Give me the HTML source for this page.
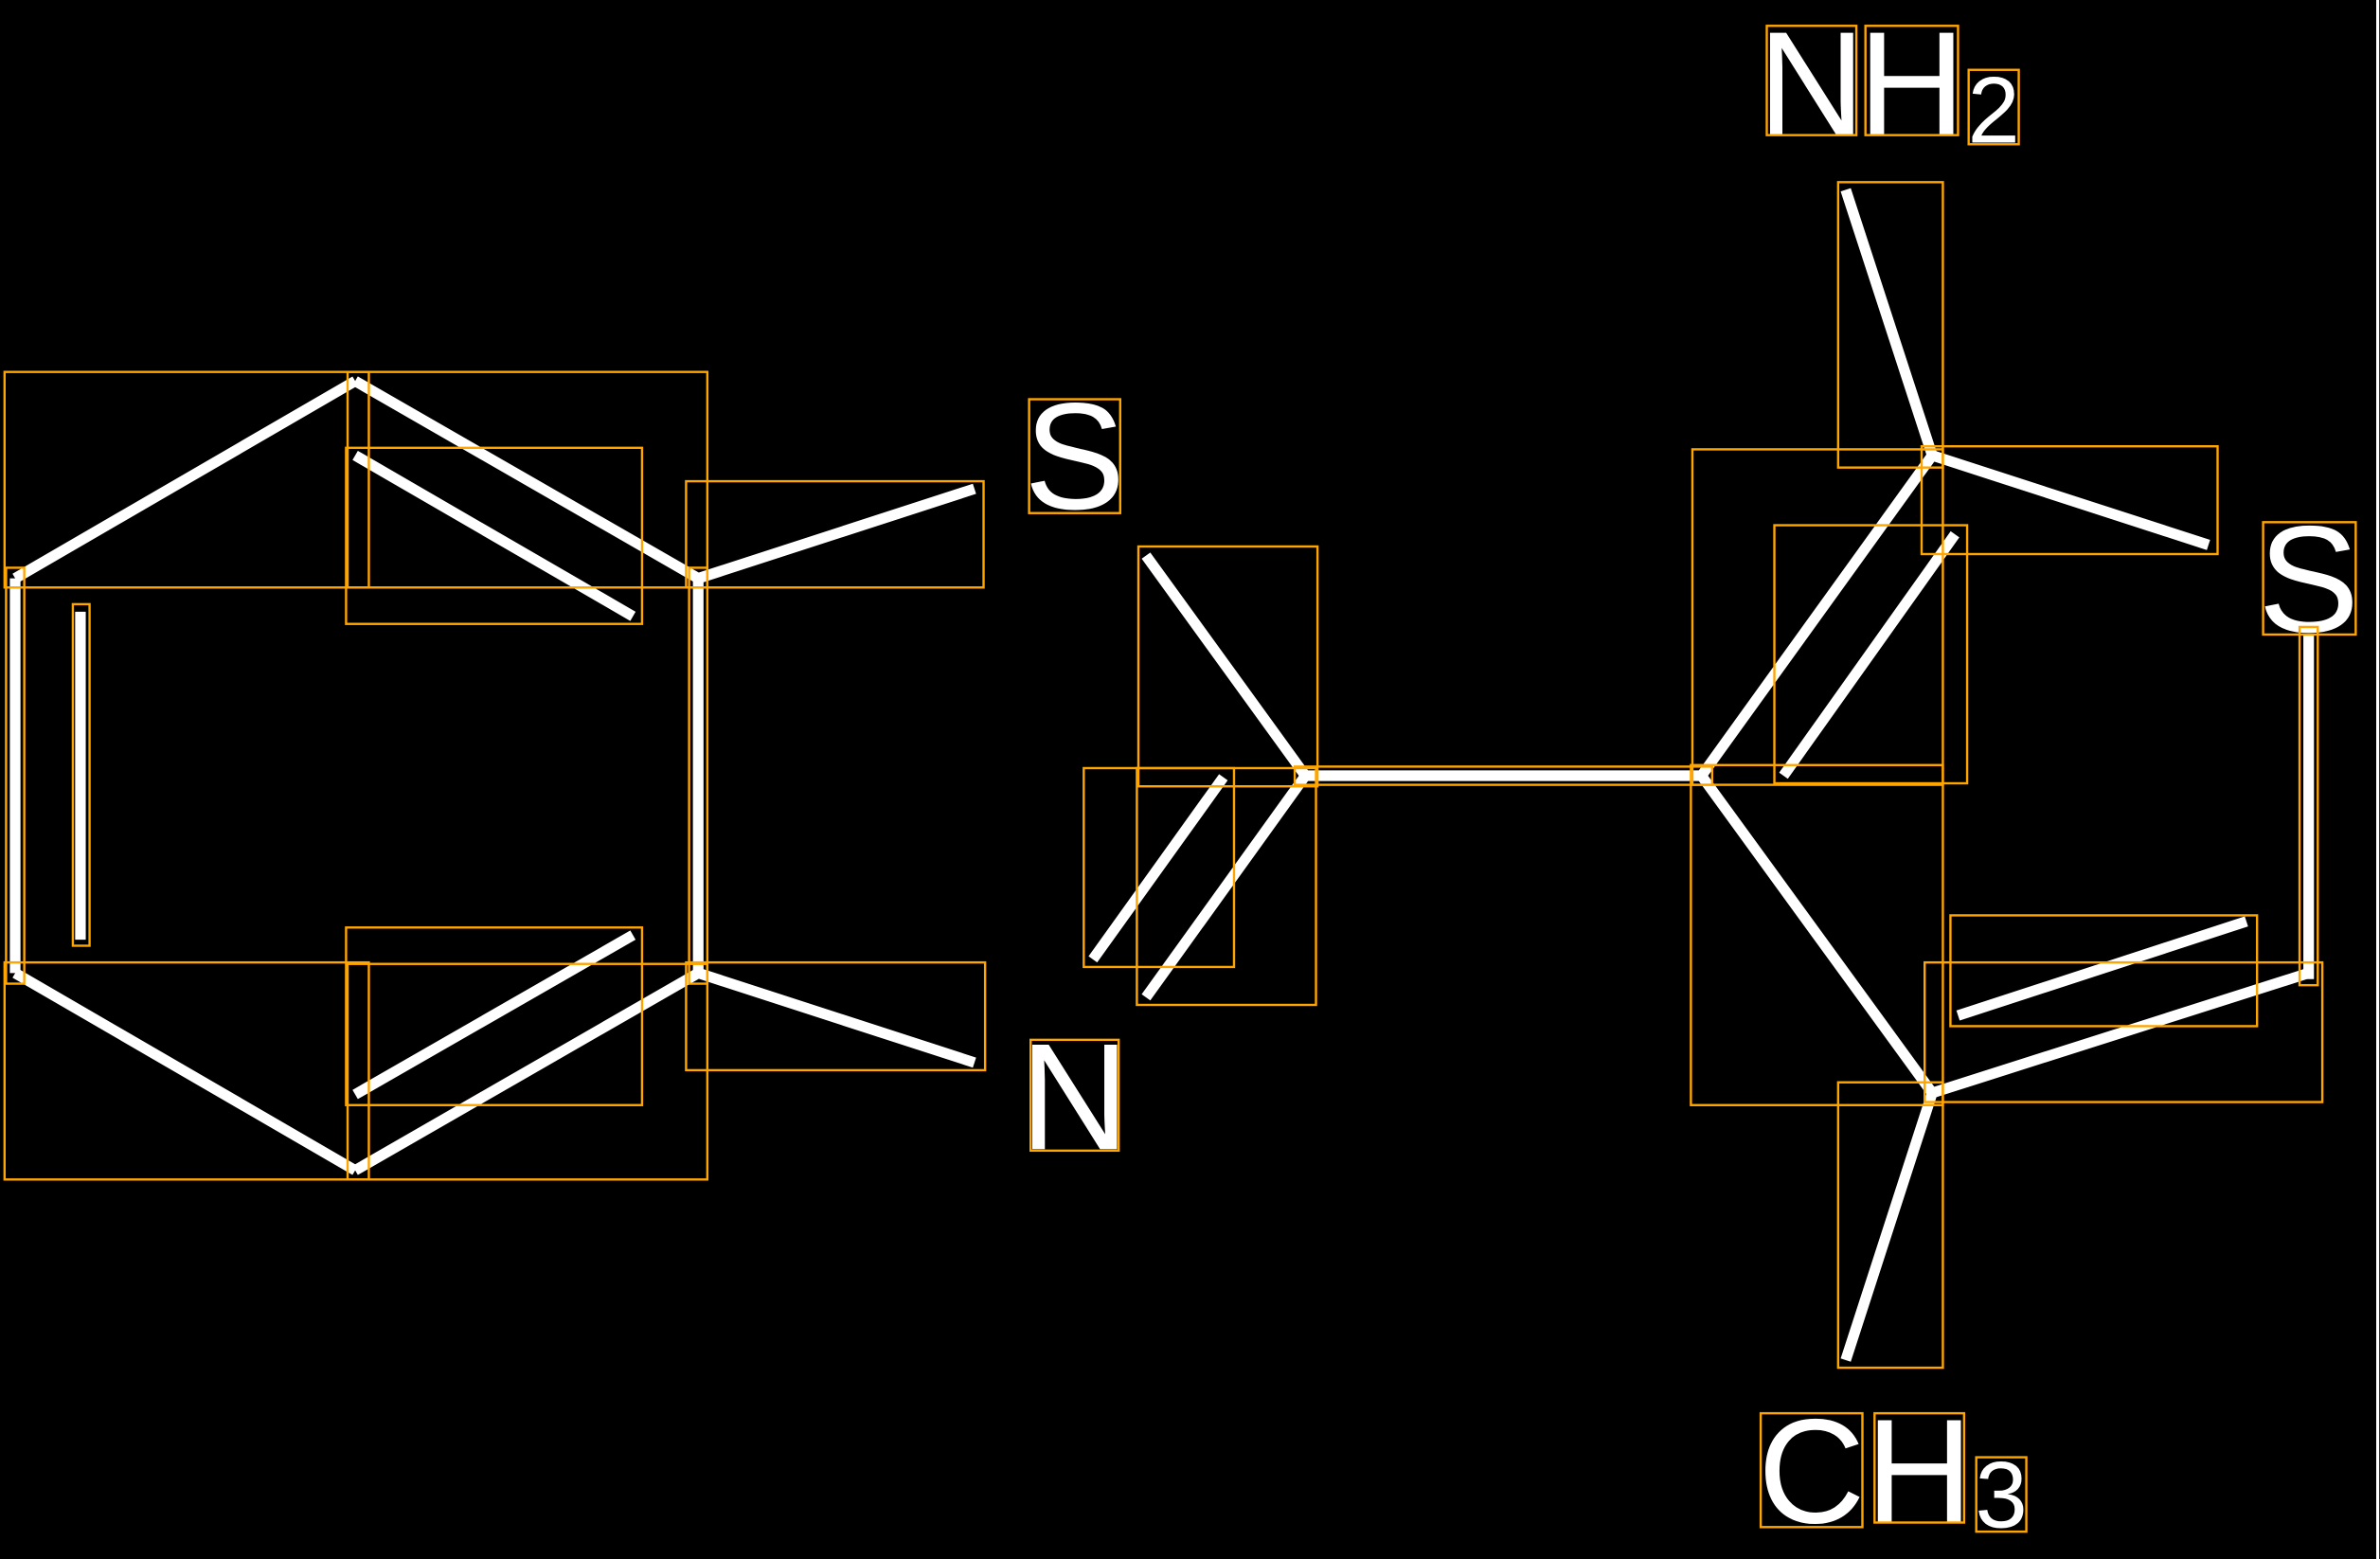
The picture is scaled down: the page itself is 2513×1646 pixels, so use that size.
<!DOCTYPE html>
<html><head><meta charset="utf-8"><style>html,body{margin:0;padding:0;background:#000;}svg{display:block}</style></head>
<body>
<svg width="2513" height="1646" viewBox="0 0 1568 1027" xmlns="http://www.w3.org/2000/svg">
<rect width="1568" height="1027" fill="#000"/>
<line x1="1566.5" y1="0" x2="1566.5" y2="1027" stroke="#fff" stroke-width="2"/>
<g stroke="#fff" stroke-width="7" fill="none">
<line x1="10" y1="381" x2="234" y2="251"/>
<line x1="234" y1="251" x2="460" y2="381"/>
<line x1="234" y1="300" x2="417" y2="406"/>
<line x1="10" y1="381" x2="10" y2="641"/>
<line x1="53" y1="403" x2="53" y2="619"/>
<line x1="460" y1="381" x2="460" y2="641"/>
<line x1="10" y1="641" x2="234" y2="771"/>
<line x1="234" y1="771" x2="460" y2="641"/>
<line x1="234" y1="721" x2="417" y2="616"/>
<line x1="460" y1="381" x2="642" y2="322"/>
<line x1="460" y1="641" x2="642" y2="700"/>
<line x1="755" y1="366" x2="860" y2="511"/>
<line x1="860" y1="511" x2="755" y2="657"/>
<line x1="720" y1="632" x2="806" y2="512"/>
<line x1="860" y1="511" x2="1121" y2="511"/>
<line x1="1121" y1="511" x2="1273" y2="300"/>
<line x1="1175" y1="511" x2="1288" y2="352"/>
<line x1="1273" y1="300" x2="1216" y2="125"/>
<line x1="1273" y1="300" x2="1455" y2="359"/>
<line x1="1521" y1="418" x2="1521" y2="645"/>
<line x1="1521" y1="641" x2="1273" y2="720"/>
<line x1="1290" y1="669" x2="1480" y2="607"/>
<line x1="1121" y1="511" x2="1273" y2="720"/>
<line x1="1273" y1="720" x2="1216" y2="896"/>
</g>
<g fill="#fff" font-family="Liberation Sans, sans-serif">
<text x="708" y="335" font-size="100" text-anchor="middle">S</text>
<text x="708" y="757" font-size="100" text-anchor="middle">N</text>
<text x="1521" y="416" font-size="100" text-anchor="middle">S</text>
<text x="1193.5" y="89" font-size="98" text-anchor="middle">N</text>
<text x="1259.5" y="89" font-size="98" text-anchor="middle">H</text>
<text x="1313.5" y="94" font-size="62" text-anchor="middle">2</text>
<text x="1193.5" y="1003" font-size="98" text-anchor="middle">C</text>
<text x="1264.5" y="1003" font-size="98" text-anchor="middle">H</text>
<text x="1318.5" y="1006" font-size="62" text-anchor="middle">3</text>
</g>
<g stroke="orange" stroke-width="1.5" fill="none">
<rect x="3" y="245" width="240" height="142"/>
<rect x="229" y="245" width="237" height="142"/>
<rect x="228" y="295" width="195" height="116"/>
<rect x="4" y="374" width="12" height="274"/>
<rect x="48" y="398" width="11" height="225"/>
<rect x="454" y="374" width="12" height="274"/>
<rect x="452" y="317" width="196" height="70"/>
<rect x="678" y="263" width="60" height="75"/>
<rect x="3" y="634" width="240" height="143"/>
<rect x="229" y="635" width="237" height="142"/>
<rect x="228" y="611" width="195" height="117"/>
<rect x="452" y="634" width="197" height="71"/>
<rect x="679" y="685" width="58" height="73"/>
<rect x="750" y="360" width="118" height="158"/>
<rect x="714" y="506" width="99" height="131"/>
<rect x="749" y="506" width="118" height="156"/>
<rect x="853" y="505" width="275" height="12"/>
<rect x="1164" y="17" width="59" height="72"/>
<rect x="1229" y="17" width="61" height="72"/>
<rect x="1297" y="46" width="33" height="49"/>
<rect x="1211" y="120" width="69" height="188"/>
<rect x="1115" y="296" width="165" height="221"/>
<rect x="1169" y="346" width="127" height="170"/>
<rect x="1266" y="294" width="195" height="71"/>
<rect x="1491" y="344" width="61" height="74"/>
<rect x="1515" y="413" width="12" height="236"/>
<rect x="1285" y="603" width="202" height="73"/>
<rect x="1268" y="634" width="262" height="92"/>
<rect x="1114" y="504" width="166" height="224"/>
<rect x="1211" y="713" width="69" height="188"/>
<rect x="1160" y="931" width="67" height="75"/>
<rect x="1235" y="931" width="59" height="72"/>
<rect x="1302" y="960" width="33" height="49"/>
</g>
</svg>
</body></html>
